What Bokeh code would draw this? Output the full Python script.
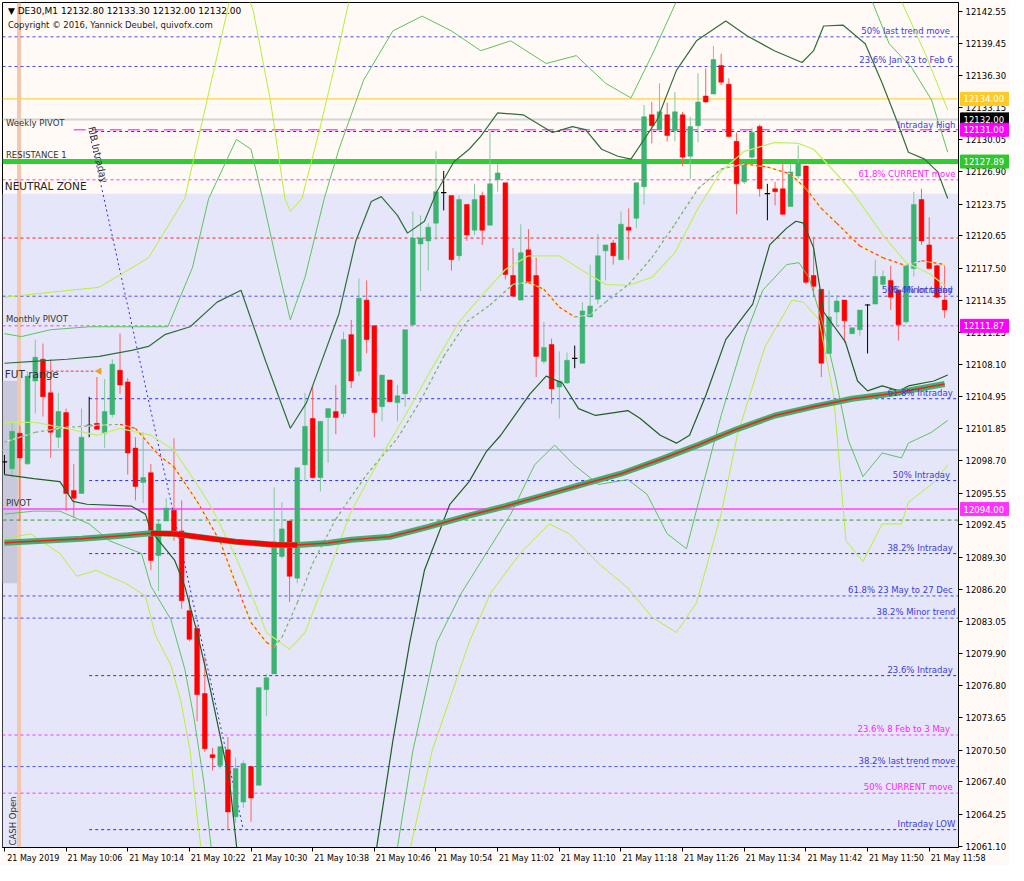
import math
from bokeh.plotting import figure
from bokeh.models import Range1d, FixedTicker, PrintfTickFormatter, Label, BoxAnnotation, Span
from bokeh.core.properties import value
from bokeh.embed import file_html
from bokeh.resources import INLINE

NAN = float("nan")

# ---------------- candles (DE30, M1, 9:58 .. 12:00) ----------------
opens = [12098.61, 12097.93, 12101.40, 12098.41, 12106.49, 12108.61, 12105.34, 12101.01, 12103.41, 12095.82,
         12095.53, 12102.16, 12102.36, 12101.40, 12103.22, 12107.55, 12106.40, 12099.95, 12096.59, 12097.55,
         12089.47, 12092.84, 12093.89, 12091.87, 12084.09, 12082.36, 12076.01, 12070.05, 12068.99, 12070.53,
         12063.99, 12065.43, 12068.89, 12067.07, 12076.40, 12077.93, 12089.38, 12092.84, 12087.26, 12098.32,
         12102.84, 12097.07, 12102.93, 12103.51, 12103.32, 12111.01, 12107.45, 12114.38, 12111.88, 12103.99,
         12106.59, 12104.38, 12105.24, 12111.97, 12119.86, 12120.15, 12121.88, 12124.86, 12124.57, 12118.70,
         12123.70, 12121.20, 12124.57, 12121.68, 12126.11, 12125.82, 12116.78, 12114.38, 12119.28, 12116.78,
         12108.41, 12110.05, 12105.91, 12106.30, 12108.70, 12108.22, 12112.74, 12114.47, 12119.18, 12119.95,
         12118.32, 12121.49, 12122.36, 12125.43, 12132.45, 12131.01, 12132.45, 12130.91, 12132.45, 12128.41,
         12131.39, 12134.28, 12134.47, 12137.26, 12135.43, 12129.86, 12125.91, 12128.32, 12131.30, 12124.76,
         12125.24, 12125.24, 12123.51, 12126.49, 12127.45, 12116.78, 12115.43, 12109.18, 12113.22, 12114.38,
         12111.11, 12111.49, 12113.90, 12113.99, 12115.91, 12116.30, 12115.34, 12112.26, 12117.45, 12124.18,
         12119.76, 12117.74, 12114.38]
highs = [12099.28, 12102.45, 12102.16, 12107.45, 12110.53, 12110.14, 12108.61, 12105.34, 12103.80, 12098.41,
         12103.80, 12104.95, 12106.88, 12106.68, 12108.61, 12111.11, 12106.78, 12101.01, 12101.49, 12098.41,
         12092.84, 12095.05, 12100.91, 12094.86, 12085.53, 12082.65, 12079.57, 12070.72, 12070.91, 12071.78,
         12069.76, 12069.47, 12068.99, 12076.59, 12077.93, 12096.11, 12094.66, 12092.84, 12098.03, 12105.34,
         12105.91, 12102.55, 12103.80, 12106.11, 12111.30, 12112.45, 12116.49, 12116.30, 12111.88, 12107.07,
         12106.59, 12106.11, 12111.49, 12123.03, 12122.64, 12121.88, 12128.89, 12126.97, 12124.57, 12124.57,
         12123.70, 12125.72, 12124.95, 12130.82, 12127.65, 12125.82, 12119.47, 12121.78, 12121.30, 12118.51,
         12112.26, 12110.63, 12109.38, 12109.28, 12109.95, 12114.18, 12117.84, 12120.82, 12119.76, 12120.24,
         12123.03, 12123.32, 12125.82, 12133.41, 12133.70, 12135.53, 12133.61, 12134.66, 12132.74, 12132.26,
         12136.49, 12136.97, 12139.18, 12138.41, 12136.01, 12130.72, 12127.93, 12131.20, 12131.49, 12125.72,
         12125.91, 12127.65, 12127.65, 12129.47, 12127.55, 12120.53, 12115.43, 12115.34, 12114.86, 12114.38,
         12111.68, 12113.41, 12113.99, 12118.32, 12117.26, 12117.74, 12115.34, 12117.74, 12124.95, 12125.24,
         12122.45, 12117.84, 12117.74]
lows = [12097.36, 12097.07, 12092.84, 12098.32, 12103.32, 12103.03, 12098.99, 12099.95, 12093.80, 12093.22,
        12095.53, 12101.01, 12101.78, 12099.95, 12102.93, 12105.24, 12097.36, 12094.86, 12094.57, 12088.03,
        12086.01, 12092.84, 12090.91, 12084.28, 12081.11, 12073.32, 12070.34, 12068.51, 12068.70, 12062.74,
        12063.41, 12064.86, 12063.51, 12067.07, 12073.80, 12077.93, 12089.18, 12084.95, 12086.78, 12096.78,
        12096.97, 12095.72, 12098.51, 12101.30, 12102.93, 12105.82, 12106.97, 12109.18, 12101.01, 12102.55,
        12104.47, 12102.55, 12103.99, 12111.97, 12115.24, 12117.26, 12120.24, 12123.13, 12117.26, 12118.22,
        12120.15, 12120.72, 12119.76, 12121.68, 12124.95, 12116.40, 12114.76, 12114.38, 12116.01, 12106.88,
        12108.13, 12104.28, 12102.84, 12106.20, 12107.74, 12108.22, 12112.74, 12113.99, 12116.30, 12117.84,
        12118.32, 12118.32, 12121.40, 12123.70, 12129.66, 12131.01, 12129.86, 12129.86, 12127.45, 12126.20,
        12129.76, 12133.61, 12134.47, 12135.34, 12130.24, 12122.74, 12125.72, 12128.13, 12124.47, 12122.16,
        12123.61, 12122.74, 12123.51, 12126.20, 12115.91, 12114.66, 12106.88, 12109.18, 12111.78, 12110.24,
        12111.11, 12110.91, 12109.18, 12113.99, 12115.34, 12113.41, 12110.43, 12112.07, 12116.68, 12119.76,
        12117.45, 12114.57, 12112.64]
closes = [12098.61, 12101.59, 12098.99, 12106.97, 12108.80, 12104.95, 12101.49, 12103.51, 12095.53, 12095.05,
          12101.01, 12102.16, 12101.78, 12103.51, 12108.13, 12106.11, 12099.47, 12096.20, 12097.07, 12088.99,
          12092.55, 12094.09, 12091.78, 12085.05, 12081.30, 12075.91, 12070.63, 12069.76, 12070.82, 12064.47,
          12068.70, 12069.18, 12065.82, 12076.59, 12077.55, 12090.82, 12092.07, 12087.45, 12098.03, 12102.07,
          12097.07, 12102.55, 12103.80, 12102.93, 12110.53, 12106.49, 12114.57, 12110.53, 12103.41, 12107.07,
          12104.47, 12105.05, 12111.49, 12120.43, 12120.43, 12121.49, 12124.95, 12124.86, 12118.32, 12124.18,
          12120.72, 12124.18, 12121.20, 12125.72, 12126.78, 12116.88, 12114.76, 12118.99, 12116.20, 12108.89,
          12109.76, 12105.72, 12106.49, 12108.51, 12108.70, 12113.32, 12113.80, 12118.70, 12119.76, 12118.70,
          12121.78, 12121.20, 12125.82, 12132.26, 12131.39, 12132.74, 12130.43, 12132.74, 12128.32, 12131.30,
          12133.70, 12133.70, 12137.84, 12135.63, 12130.34, 12125.72, 12127.84, 12130.72, 12125.24, 12124.76,
          12124.95, 12122.74, 12126.88, 12127.74, 12116.11, 12115.72, 12108.22, 12112.74, 12114.28, 12112.36,
          12111.68, 12113.41, 12113.90, 12116.68, 12116.68, 12114.66, 12111.97, 12117.74, 12123.70, 12120.15,
          12117.45, 12114.66, 12113.41]
bar_index = list(range(len(opens)))

time_tick_bars = [0, 8, 16, 24, 32, 40, 48, 56, 64, 72, 80, 88, 96, 104, 112, 120]
time_tick_labels = ["21 May 2019", "21 May 10:06", "21 May 10:14", "21 May 10:22", "21 May 10:30",
                    "21 May 10:38", "21 May 10:46", "21 May 10:54", "21 May 11:02", "21 May 11:10",
                    "21 May 11:18", "21 May 11:26", "21 May 11:34", "21 May 11:42", "21 May 11:50",
                    "21 May 11:58"]
price_ticks = [12142.55, 12139.45, 12136.30, 12133.15, 12130.05, 12126.90, 12123.75, 12120.65, 12117.50,
               12114.35, 12111.25, 12108.10, 12104.95, 12101.85, 12098.70, 12095.55, 12092.45, 12089.30,
               12086.20, 12083.05, 12079.90, 12076.80, 12073.65, 12070.50, 12067.40, 12064.25, 12061.10]

# ---------------- indicators ----------------
slow_ma_bars = [0, 10, 16, 19, 22, 25, 30, 35, 38, 42, 45, 50, 55, 60, 65, 70, 75, 80, 85, 90, 95, 100,
                105, 110, 115, 122]
slow_ma_vals = [12090.72, 12091.11, 12091.45, 12091.65, 12091.59, 12091.30, 12090.82, 12090.53, 12090.50,
                12090.70, 12091.01, 12091.30, 12092.26, 12093.32, 12094.28, 12095.34, 12096.40, 12097.45,
                12098.80, 12100.24, 12101.78, 12103.13, 12103.99, 12104.76, 12105.24, 12106.20]

fast_ma_bars = [0, 4, 8, 12, 15, 17, 20, 22, 25, 28, 30, 32, 34, 35, 36, 38, 40, 43, 47, 51, 54, 57, 60,
                63, 66, 68, 70, 72, 74, 76, 78, 81, 84, 87, 90, 93, 96, 99, 102, 104, 106, 108, 111, 114,
                117, 119, 122]
fast_ma_vals = [12100.53, 12101.49, 12101.97, 12102.16, 12102.26, 12101.88, 12099.28, 12098.12, 12094.76,
                12090.82, 12086.78, 12082.93, 12081.01, 12080.53, 12081.49, 12084.86, 12088.70, 12093.03,
                12097.36, 12100.91, 12104.57, 12108.89, 12112.26, 12113.90, 12115.91, 12116.11, 12115.43,
                12113.70, 12112.74, 12112.93, 12114.18, 12115.91, 12118.51, 12121.78, 12125.24, 12127.16,
                12127.65, 12127.36, 12126.68, 12125.24, 12123.32, 12121.88, 12119.66, 12118.51, 12117.74,
                12118.22, 12117.84]

mid_bars = [0, 4, 8, 12, 15, 19, 22, 25, 27, 30, 32, 34, 37, 39, 42, 45, 49, 52, 56, 59, 62, 65, 68, 72,
            75, 78, 81, 84, 87, 90, 93, 96, 100, 103, 105, 108, 110, 114, 117, 120, 122]
mid_vals = [12102.45, 12102.45, 12101.88, 12101.20, 12101.88, 12101.20, 12099.76, 12096.40, 12093.99,
            12089.38, 12085.82, 12081.97, 12080.34, 12081.97, 12087.74, 12093.80, 12099.28, 12103.13,
            12108.41, 12112.26, 12114.86, 12117.36, 12118.70, 12118.70, 12117.26, 12115.91, 12115.82,
            12116.59, 12118.99, 12123.32, 12126.97, 12128.89, 12129.76, 12129.66, 12129.09, 12126.68,
            12124.95, 12120.72, 12118.03, 12116.97, 12115.82]

dark_up_bars = [0, 3.8, 8.1, 12.3, 16.5, 18.7, 20.8, 24.1, 27.6, 30.7, 33.9, 37.1, 39.2, 43.4, 45.6, 47.6,
                48.9, 51.0, 52.3, 54.5, 56.1, 58.3, 60.3, 61.8, 64.0, 67.3, 71.1, 73.7, 75.4, 77.5, 79.6,
                81.3, 84.7, 87.2, 89.8, 93.6, 96.4, 99.9, 103.5, 105.0, 106.3, 108.8, 111.7, 113.9, 115.6,
                117.3, 119.4, 121.1, 122.4]
dark_up_vals = [12108.22, 12108.41, 12108.61, 12108.89, 12109.47, 12109.86, 12111.01, 12111.78, 12114.18,
                12115.34, 12108.41, 12101.88, 12104.38, 12113.03, 12120.15, 12123.99, 12124.47, 12122.64,
                12120.91, 12122.07, 12124.95, 12127.84, 12129.09, 12130.34, 12132.64, 12132.45, 12130.72,
                12131.30, 12131.01, 12129.09, 12128.41, 12128.13, 12131.97, 12136.78, 12139.66, 12141.59,
                12140.14, 12138.70, 12137.55, 12138.70, 12141.11, 12141.20, 12139.38, 12135.53, 12132.26,
                12128.80, 12128.13, 12126.88, 12124.28]

dark_low_bars = [0, 3.8, 7.2, 8.9, 10.7, 16.5, 18.3, 19.0, 22.1, 23.4, 25.0, 26.7, 29.2, 30.3, NAN, 47.2,
                 48.3, 50.4, 52.6, 54.5, 57.8, 60.3, 62.5, 64.4, 68.2, 70.3, 72.4, 74.5, 76.7, 80.9, 82.5,
                 85.1, 87.2, 88.9, 91.0, 93.6, 97.1, 99.3, 101.5, 102.7, 103.7, 105.0, 106.3, 109.1, 110.7,
                 112.0, 113.9, 116.1, 117.3, 120.6, 122.4]
dark_low_vals = [12097.36, 12096.97, 12096.68, 12094.76, 12094.47, 12094.28, 12093.51, 12091.88, 12088.99,
                 12086.49, 12081.97, 12076.49, 12067.55, 12059.86, NAN, 12059.86, 12061.01, 12071.39,
                 12081.01, 12088.03, 12094.47, 12096.68, 12099.57, 12101.20, 12105.24, 12106.97, 12106.30,
                 12103.80, 12103.13, 12103.61, 12102.84, 12101.20, 12100.43, 12101.20, 12105.05, 12110.53,
                 12113.99, 12119.76, 12121.40, 12122.07, 12121.88, 12119.47, 12113.22, 12110.34, 12106.49,
                 12105.53, 12106.01, 12105.53, 12106.01, 12106.49, 12107.07]

med_up_bars = [0, 2.2, 6.0, 11.0, 18.7, 21.2, 24.4, 26.5, 30.1, 32.0, 33.5, 35.2, 37.1, 39.0, 41.5, 43.4,
               46.6, 50.4, 54.2, 58.0, 61.8, 65.7, 70.3, 74.2, 78.0, 81.3, 84.3, 87.2, 88.5, NAN, 112.0,
               112.6, 114.8, 117.7, 120.3, 122.4]
med_up_vals = [12111.11, 12110.82, 12111.49, 12111.78, 12111.78, 12111.78, 12117.55, 12124.28, 12130.05,
               12129.09, 12124.28, 12118.51, 12112.45, 12116.59, 12124.28, 12129.09, 12135.82, 12140.63,
               12142.07, 12140.63, 12138.70, 12139.66, 12137.45, 12138.22, 12135.53, 12134.09, 12138.70,
               12143.51, 12145.43, NAN, 12145.43, 12143.51, 12139.38, 12137.07, 12133.90, 12128.80]

med_low_bars = [0, 3.8, 7.2, 11.0, 13.6, 17.8, 19.0, 21.6, 23.4, 24.6, 25.9, 27.0, NAN, 50.4, 51.0, 53.0,
                56.1, 59.3, 62.5, 65.7, 68.8, 71.4, 73.9, 77.1, 80.9, 83.4, 86.0, 88.5, 91.0, 93.0, 96.1,
                98.4, 101.5, 103.1, 104.4, 106.3, 107.8, 109.5, 111.4, 113.9, 116.4, 117.3, 120.3, 122.4]
med_low_vals = [12093.51, 12093.80, 12093.80, 12092.55, 12090.92, 12089.66, 12086.49, 12083.22, 12078.42,
                12073.61, 12067.26, 12059.86, NAN, 12059.86, 12061.01, 12070.43, 12081.01, 12085.82,
                12089.66, 12093.51, 12098.32, 12100.24, 12098.32, 12096.40, 12096.88, 12095.43, 12091.59,
                12090.14, 12097.36, 12103.13, 12110.82, 12115.34, 12117.84, 12118.03, 12116.59, 12111.78,
                12106.97, 12100.72, 12097.17, 12099.47, 12098.99, 12100.43, 12101.49, 12102.64]

lime_up_bars = [0, 6.0, 12.3, 18.7, 23.4, 26.3, 29.2, 30.1, 31.4, 32.3, 34.5, 36.4, 37.1, 38.6, 40.9, 42.8,
                44.7, 46.0, NAN, 115.2, 116.4, 119.6, 122.4]
lime_up_vals = [12114.66, 12115.14, 12115.63, 12118.51, 12124.28, 12133.90, 12143.51, 12144.95, 12144.47,
                12142.55, 12133.90, 12124.28, 12123.03, 12124.28, 12131.01, 12137.07, 12143.51, 12145.43,
                NAN, 12145.43, 12143.51, 12138.22, 12132.93]

lime_low_bars = [0, 3.4, 7.2, 9.4, 11.9, 13.6, 15.7, 18.3, 19.6, 21.6, 22.9, 24.1, 25.0, 25.7, NAN, 51.9,
                 52.7, 55.5, 60.3, 63.1, 66.9, 70.7, 73.3, 77.1, 80.9, 84.1, 87.2, 89.8, 93.0, 95.1, 98.7,
                 102.2, 103.7, 105.7, 107.6, 109.2, 111.4, 113.9, 116.4, 117.3, 120.6, 122.4]
lime_low_vals = [12091.11, 12091.59, 12089.66, 12087.45, 12088.03, 12087.45, 12086.78, 12085.53, 12081.68,
                 12078.80, 12075.24, 12070.43, 12063.99, 12059.86, NAN, 12059.86, 12061.01, 12070.43,
                 12081.01, 12085.82, 12089.66, 12092.55, 12091.59, 12088.70, 12086.30, 12083.41, 12081.97,
                 12084.86, 12093.51, 12101.20, 12109.86, 12114.37, 12114.18, 12112.45, 12105.05, 12090.91,
                 12088.89, 12092.55, 12092.55, 12094.66, 12096.59, 12098.32]

# ---------------- levels ----------------
fib_full_prices = [12140.05, 12137.16, 12114.76, 12085.53, 12083.37, 12068.89]
fib_full_texts = ["50%   last trend move", "23.6%  Jan 23 to Feb 6", "50%  Minor trend",
                  "61.8%  23 May to 27 Dec", "38.2% Minor trend", "38.2% last trend move"]
intraday_start_bar = 11
intraday_prices = [12130.82, 12114.76, 12104.76, 12096.78, 12089.66, 12077.76, 12062.74]
intraday_texts = ["Intraday High", "76.4%  Intraday", "61.8%  Intraday", "50%   Intraday",
                  "38.2%  Intraday", "23.6%  Intraday", "Intraday LOW"]
current_prices = [12126.11, 12071.97, 12066.30]
current_texts = ["61.8% CURRENT move", "23.6%   8 Feb to 3 May", "50%  CURRENT move"]
pivot_names = ["Weekly PIVOT", "RESISTANCE 1", "Monthly PIVOT", "PIVOT"]
pivot_prices = [12131.00, 12127.89, 12111.87, 12094.00]
gold_level = 12134.00
bid_price = 12132.00
red_level = 12120.43
steel_level = 12099.76
green_dash_level = 12092.93
neutral_top = 12124.76
fut_range_low, fut_range_high = 12086.78, 12106.49
fut_marker_price = 12107.45
fut_marker_bars = [4.7, 12.3]
cash_open_bar = 1.9
axis_box_prices = [12134.00, 12132.00, 12131.00, 12127.89, 12111.87, 12094.00]
axis_box_texts = ["12134.00", "12132.00", "12131.00", "12127.89", "12111.87", "12094.00"]
header_text = "\u25bc DE30,M1  12132.80 12133.30 12132.00 12132.00"
copyright_text = "Copyright \u00a9 2016, Yannick Deubel, quivofx.com"

# ---------------- figure ----------------
BG = "#fffaf6"
X0, X1 = -0.25, 123.8
Y0, Y1 = 12061.0, 12143.4
FONT = "DejaVu Sans"
FW, FH = 956, 845
PX_PER_BAR = FW / (X1 - X0)

p = figure(frame_width=FW, frame_height=FH, x_range=Range1d(X0, X1), y_range=Range1d(Y0, Y1),
           output_backend="svg", toolbar_location=None, x_axis_location="below",
           y_axis_location="right", min_border_left=2, min_border_top=2, min_border_bottom=0,
           min_border_right=0, background_fill_color=BG, border_fill_color=BG,
           outline_line_color="black")
p.grid.visible = False

ya = p.yaxis[0]
ya.ticker = FixedTicker(ticks=price_ticks, minor_ticks=[])
ya.formatter = PrintfTickFormatter(format="%.2f")
ya.major_tick_out = 4
ya.major_tick_in = 0
ya.minor_tick_out = 0
ya.minor_tick_in = 0
ya.major_label_standoff = 3
ya.major_label_text_font = FONT
ya.major_label_text_font_size = "8.5px"
ya.major_label_text_color = "black"
ya.axis_line_color = "black"

# time axis: tick marks on the bars (minor ticks), label centred just right of each mark
label_centres = [k + 3.75 for k in time_tick_bars]
xa = p.xaxis[0]
xa.ticker = FixedTicker(ticks=label_centres, minor_ticks=time_tick_bars)
xa.major_label_overrides = {c: t for c, t in zip(label_centres, time_tick_labels)}
xa.major_tick_out = 0
xa.major_tick_in = 0
xa.minor_tick_out = 4
xa.minor_tick_in = 0
xa.minor_tick_line_color = "black"
xa.major_label_standoff = 2
xa.major_label_text_font = FONT
xa.major_label_text_font_size = "8px"
xa.major_label_text_color = "black"
xa.axis_line_color = "black"

# background zones
p.add_layout(BoxAnnotation(top=neutral_top, fill_color="#e6e6fa", fill_alpha=1.0, line_alpha=0,
                           level="underlay"))
p.add_layout(BoxAnnotation(left=X0, right=cash_open_bar - 0.1, bottom=fut_range_low, top=fut_range_high,
                           fill_color="#c9c9de", fill_alpha=1.0, line_alpha=0, level="underlay"))
p.add_layout(Span(location=cash_open_bar, dimension="height", line_color="#f3c6ae", line_width=4,
                  level="underlay"))

# horizontal levels
def hline(price, x_start, color, width=1, dash="solid"):
    p.segment(x0=[x_start], y0=[price], x1=[X1], y1=[price], line_color=color, line_width=width,
              line_dash=dash)

hline(gold_level, X0, "#ffd24a", 1.2)
hline(bid_price, X0, "#d4d4d4", 2)
hline(red_level, X0, "#ff2020", 1, "3 3")
hline(steel_level, X0, "#b4c4dc", 2)
hline(green_dash_level, X0, "#2e9a2e", 1, "4 3")
for pr in fib_full_prices:
    hline(pr, X0, "#4b4be6", 1, "3 3")
for pr in intraday_prices:
    if pr not in fib_full_prices:
        hline(pr, intraday_start_bar, "#2b2bf0", 1, "3 3")
for pr in current_prices:
    hline(pr, X0, "#ff33ff", 1, "3 3")
hline(pivot_prices[0], 9, "#ff55ff", 1.5, "12 6")
hline(pivot_prices[1], X0, "#32cd32", 5)
hline(pivot_prices[2], X0, "#ff33ff", 1, "3 3")
hline(pivot_prices[3], X0, "#ff66ff", 2)

# FUT range marker
p.segment(x0=[fut_marker_bars[0]], y0=[fut_marker_price], x1=[fut_marker_bars[1]], y1=[fut_marker_price],
          line_color="#ff3030", line_width=1, line_dash="3 2")
p.scatter(x=[fut_marker_bars[1]], y=[fut_marker_price], marker="triangle", size=6, angle=math.pi / 2,
          fill_color="#f0a020", line_color="#f0a020")

# fib intraday trend line (high -> low)
p.segment(x0=[intraday_start_bar], y0=[intraday_prices[0]], x1=[31], y1=[intraday_prices[-1]],
          line_color="#2b2bf0", line_width=1, line_dash="2 3")

# candles
kinds = ["up" if c > o else ("down" if c < o else "flat") for o, c in zip(opens, closes)]
body_col = {"up": "#3cb371", "down": "#ff0000", "flat": "#000000"}
wick_col = {"up": "#80c99c", "down": "#ff6060", "flat": "#000000"}
p.segment(x0=bar_index, y0=lows, x1=bar_index, y1=highs, line_color=[wick_col[k] for k in kinds],
          line_width=1)
idx = [i for i, k in enumerate(kinds) if k != "flat"]
p.vbar(x=[bar_index[i] for i in idx], width=0.62,
       top=[max(opens[i], closes[i]) for i in idx], bottom=[min(opens[i], closes[i]) for i in idx],
       fill_color=[body_col[kinds[i]] for i in idx], line_color=[body_col[kinds[i]] for i in idx],
       line_width=0.5)
fidx = [i for i, k in enumerate(kinds) if k == "flat"]
p.segment(x0=[bar_index[i] - 0.35 for i in fidx], y0=[opens[i] for i in fidx],
          x1=[bar_index[i] + 0.35 for i in fidx], y1=[opens[i] for i in fidx], line_color="black",
          line_width=1.2)

# bands
p.line(lime_up_bars, lime_up_vals, line_color="#b6ef3a", line_width=1)
p.line(lime_low_bars, lime_low_vals, line_color="#b6ef3a", line_width=1)
p.line(med_up_bars, med_up_vals, line_color="#5cc45c", line_width=1)
p.line(med_low_bars, med_low_vals, line_color="#5cc45c", line_width=1)
p.line(dark_up_bars, dark_up_vals, line_color="#2f6f3a", line_width=1.2)
p.line(dark_low_bars, dark_low_vals, line_color="#1f5f24", line_width=1.2)
p.line(mid_bars, mid_vals, line_color="#c2f06a", line_width=1.3)

# fast MA: dashed, red when falling, grey-green when rising
fx0, fy0, fx1, fy1, fcol, fbase = [], [], [], [], [], []
for i in range(len(fast_ma_bars) - 1):
    fx0.append(fast_ma_bars[i]); fy0.append(fast_ma_vals[i])
    fx1.append(fast_ma_bars[i + 1]); fy1.append(fast_ma_vals[i + 1])
    falling = fast_ma_vals[i + 1] < fast_ma_vals[i]
    fcol.append("#ff3a3a" if falling else "#7aa890")
    fbase.append("#ffee40" if falling else "#dfeec8")
p.segment(x0=fx0, y0=fy0, x1=fx1, y1=fy1, line_color=fbase, line_width=1.2)
p.segment(x0=fx0, y0=fy0, x1=fx1, y1=fy1, line_color=fcol, line_width=1.2, line_dash="3 3")

# slow MA: thick green with red core, solid red when falling
p.line(slow_ma_bars, slow_ma_vals, line_color="#3cb371", line_width=6)
p.line(slow_ma_bars, slow_ma_vals, line_color="#ff1a1a", line_width=1.6)
sx0, sy0, sx1, sy1 = [], [], [], []
for i in range(len(slow_ma_bars) - 1):
    if slow_ma_vals[i + 1] < slow_ma_vals[i]:
        sx0.append(slow_ma_bars[i]); sy0.append(slow_ma_vals[i])
        sx1.append(slow_ma_bars[i + 1]); sy1.append(slow_ma_vals[i + 1])
p.segment(x0=sx0, y0=sy0, x1=sx1, y1=sy1, line_color="#ff0000", line_width=5)

# ---------------- texts ----------------
def lab(x, y, text, color="black", size="8.5px", align="left", baseline="bottom", **kw):
    p.add_layout(Label(x=x, y=y, text=text, text_color=color, text_font=FONT, text_font_size=size,
                       text_align=align, text_baseline=baseline, **kw))

for pr, t in zip(fib_full_prices, fib_full_texts):
    lab(X1 - 0.4, pr + 0.1, t, "#3c3cd8", align="right")
for pr, t in zip(intraday_prices, intraday_texts):
    lab(X1 - 0.4, pr + 0.1, t, "#3c3cd8", align="right")
for pr, t in zip(current_prices, current_texts):
    lab(X1 - 0.4, pr + 0.1, t, "#ff22ff", align="right")

for name, pr in zip(pivot_names, pivot_prices):
    lab(X0 + 0.45, pr + 0.15, name, "#333333")
lab(X0 + 0.3, neutral_top + 0.15, "NEUTRAL ZONE", "#222222", size="10.5px")
lab(X0 + 0.3, fut_range_high + 0.1, "FUT range", "#333333", size="10.5px")
lab(cash_open_bar - 0.2, Y0 + 0.2, "CASH Open", "#333333", size="8.5px", angle=math.pi / 2)
lab(intraday_start_bar + 1.0, intraday_prices[0] + 0.6, "FIB Intraday", "#333333", size="9.5px",
    baseline="top", angle=-1.34)

lab(X0 + 0.7, Y1 - 0.35, header_text, "black", size="9px", baseline="top")
lab(X0 + 0.7, Y1 - 1.75, copyright_text, "#222222", size="8.5px", baseline="top")

# coloured price boxes on the price axis (overlay level renderers are not clipped to the frame)
box_colors = ["#ffc926", "#000000", "#ff00ff", "#2ec82e", "#ff00ff", "#ff33ff"]
box_w_px, box_h_px = 49, 13
box_centre_x = X1 + (2 + box_w_px / 2) / PX_PER_BAR
p.rect(x=[box_centre_x] * len(axis_box_prices), y=axis_box_prices, width=box_w_px, height=box_h_px,
       width_units="screen", height_units="screen", fill_color=box_colors, line_color=box_colors,
       level="overlay")
p.text(x=[X1 + 5 / PX_PER_BAR] * len(axis_box_prices), y=axis_box_prices, text=axis_box_texts,
       text_color="white", text_font=value(FONT), text_font_size="8.5px", text_align="left",
       text_baseline="middle", level="overlay")

open("out.html", "w").write(file_html(p, INLINE))
